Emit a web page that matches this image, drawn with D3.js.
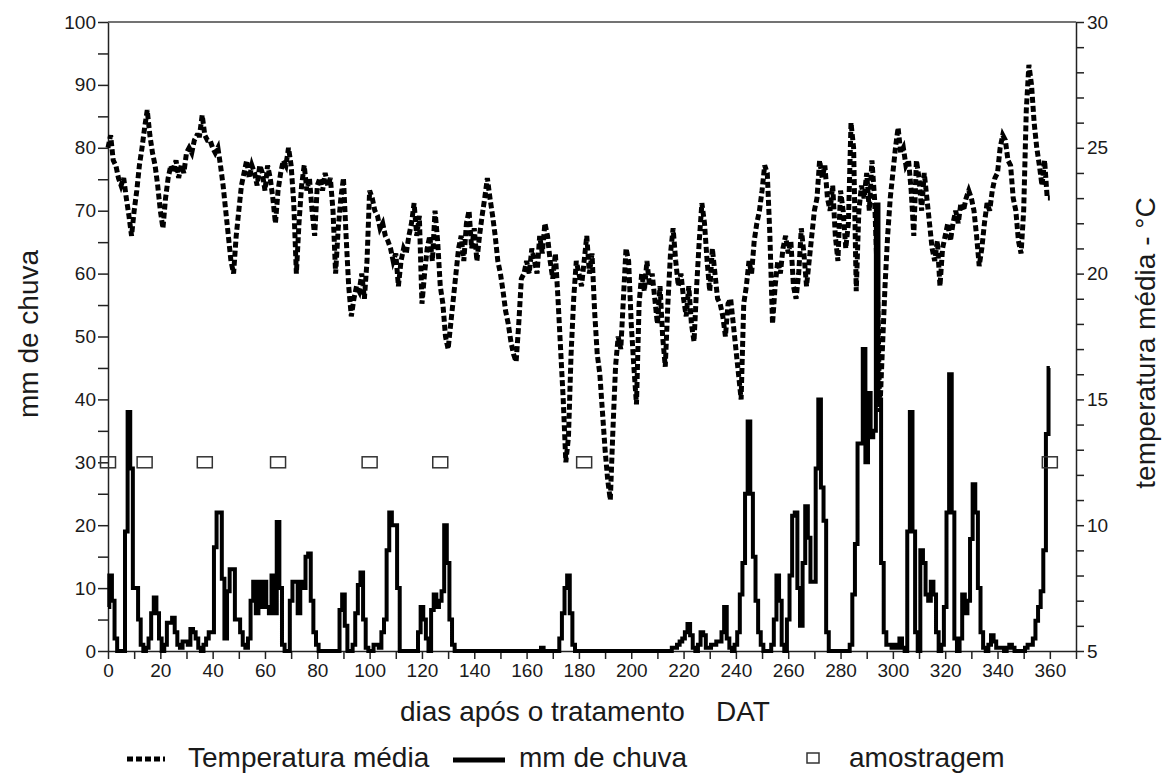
<!DOCTYPE html>
<html>
<head>
<meta charset="utf-8">
<script src="https://cdn.jsdelivr.net/npm/d3@7"></script>
<style>
  body { margin: 0; background: #fff; }
  svg text { font-family: "Liberation Sans", Arial, sans-serif; fill: #1a1a1a; }
</style>
</head>
<body>
<svg id="chart" width="1162" height="774"></svg>
<script>
// daily rain (mm), index = days after treatment (0..360)
var rainfall = [
  7, 12, 8, 2, 0, 0, 0, 19, 38, 29,
  10, 10, 5, 1, 0, 0.5, 2, 6, 8.5, 6,
  2, 0, 1, 4.5, 4.5, 5.3, 3, 1, 0.5, 1.5,
  1.5, 1, 3.5, 3, 2, 0.5, 0, 1, 2, 3,
  3, 16.5, 22, 22, 11.5, 2, 9.5, 13, 13, 5,
  5, 3, 1, 0.5, 2, 8, 11, 6, 11, 7,
  11, 7, 6, 12, 6, 20.5, 10, 1, 0, 0,
  8, 11, 11, 6, 11, 10, 15, 15.5, 8, 3,
  1, 0, 0, 0, 0, 0, 0, 0, 0, 6.5,
  9, 4, 0, 0, 1, 6, 10.5, 12.5, 5, 0.5,
  0, 0, 1, 1, 0.5, 3, 5, 16, 22, 20,
  20, 10, 0, 0, 0, 0, 0, 0, 0, 3,
  7, 5, 2, 0, 6.5, 9, 7, 8, 9.5, 20,
  14, 5, 1, 0, 0, 0, 0, 0, 0, 0,
  0, 0, 0, 0, 0, 0, 0, 0, 0, 0,
  0, 0, 0, 0, 0, 0, 0, 0, 0, 0,
  0, 0, 0, 0, 0, 0, 0.5, 0, 0, 0,
  0, 0, 0, 2, 6, 10, 12, 6, 1, 0,
  0, 0, 0, 0, 0, 0, 0, 0, 0, 0,
  0, 0, 0, 0, 0, 0, 0, 0, 0, 0,
  0, 0, 0, 0, 0, 0, 0, 0, 0, 0,
  0, 0, 0, 0, 0, 0, 0.5, 0.5, 1, 1.5,
  2, 3, 4.3, 2.5, 0.5, 0, 1, 3, 2.5, 0.5,
  0.5, 1, 1, 1.5, 1.5, 3, 7, 2, 0.5, 0,
  1, 3, 9, 14, 25, 36.5, 25, 15, 8, 3,
  1, 0, 0, 0, 1, 5, 12, 8, 1, 0,
  5, 12, 21.5, 22, 10, 4, 14, 23, 18, 11,
  11, 29, 40, 26, 20.7, 3, 0, 0, 0, 0,
  0, 0, 0, 0, 1, 9, 17, 33, 33, 48,
  30, 41, 34, 35, 71, 40, 14, 3, 1, 1,
  0.5, 1, 0.5, 2, 0.5, 0, 19, 38, 19, 3,
  0, 16, 14, 9, 8, 11, 9, 3, 0, 1,
  7, 22, 44, 22, 2, 0, 2, 9, 6, 8,
  17.8, 26.5, 22, 10, 3, 0.5, 0, 1, 2.5, 1.5,
  0.5, 0.5, 0.5, 0, 0.5, 1, 0.5, 0, 0, 0,
  0, 0.5, 1, 1, 2, 4.8, 7, 9.5, 16, 34.5, 45
];

// daily mean temperature (°C), index = days after treatment (0..360)
var temperature = [
  25.0, 25.5, 24.5, 24.3, 23.8, 23.5, 23.8, 23.0, 22.3, 21.5,
  22.5, 23.3, 24.3, 25.0, 25.8, 26.5, 25.5, 24.8, 24.3, 23.5,
  22.5, 21.8, 23.0, 23.8, 24.3, 24.0, 24.5, 23.8, 24.3, 24.0,
  24.8, 25.0, 24.8, 25.3, 25.5, 25.5, 26.3, 25.5, 25.3, 25.3,
  25.0, 24.8, 25.0, 24.3, 23.5, 22.5, 21.5, 20.5, 20.0, 21.5,
  22.5, 23.5, 24.0, 24.5, 23.8, 24.3, 24.0, 23.5, 24.3, 24.0,
  23.3, 24.3, 23.8, 23.0, 22.0, 23.3, 24.0, 24.5, 24.3, 25.0,
  24.3, 22.8, 20.0, 22.0, 23.5, 24.3, 23.3, 23.8, 22.5, 21.5,
  23.5, 23.8, 23.3, 24.0, 23.5, 23.8, 22.5, 20.0, 21.8, 23.0,
  23.8, 21.5, 19.5, 18.3, 19.0, 19.5, 19.3, 20.0, 19.0, 20.5,
  23.3, 23.0, 22.5, 22.3, 21.8, 22.0, 21.5, 21.3, 21.0, 20.5,
  20.8, 19.5, 20.5, 21.0, 20.8, 21.5, 22.0, 22.8, 21.5, 22.3,
  18.8, 20.0, 21.0, 21.5, 20.5, 22.5, 21.3, 19.5, 18.8, 17.5,
  17.0, 18.0, 19.0, 20.0, 21.0, 21.5, 20.5, 22.0, 22.5, 21.0,
  21.8, 20.5, 21.5, 22.3, 23.0, 23.8, 23.0, 22.3, 21.5, 20.5,
  20.0, 19.3, 18.5, 18.0, 17.3, 16.8, 16.5, 18.0, 19.8, 20.0,
  20.5, 20.0, 21.0, 20.5, 20.0, 21.5, 20.8, 22.0, 21.5, 20.5,
  19.8, 20.8, 19.0, 17.0, 15.0, 12.5, 13.5, 16.8, 19.0, 20.5,
  20.0, 19.5, 20.5, 21.5, 20.0, 20.8, 18.5, 16.8, 16.0, 14.5,
  13.0, 11.8, 11.0, 13.8, 16.3, 17.5, 17.0, 19.0, 21.0, 20.5,
  18.0, 16.3, 14.8, 18.8, 20.0, 19.3, 20.5, 19.5, 20.0, 19.0,
  18.0, 19.5, 17.5, 16.3, 18.8, 20.8, 21.8, 20.5, 19.5, 20.0,
  19.0, 18.3, 19.5, 18.0, 17.3, 19.5, 21.3, 22.8, 22.0, 20.5,
  19.3, 21.0, 20.0, 19.0, 18.8, 18.3, 17.5, 18.8, 19.0, 18.0,
  17.0, 16.0, 15.0, 18.8, 19.5, 20.5, 20.0, 21.3, 22.0, 22.5,
  23.3, 24.3, 24.0, 21.5, 18.0, 19.5, 20.5, 20.0, 21.0, 21.5,
  20.8, 21.3, 19.5, 19.0, 20.0, 21.8, 20.8, 19.5, 20.5, 21.5,
  22.5, 23.0, 24.5, 23.8, 24.3, 23.0, 22.5, 23.5, 21.5, 20.5,
  23.3, 22.5, 21.0, 22.0, 26.0, 25.0, 19.3, 22.5, 23.5, 23.0,
  24.0, 22.5, 24.5, 23.0, 20.0, 14.5, 17.0, 19.5, 21.5, 23.0,
  24.0, 25.0, 25.8, 24.8, 25.0, 24.3, 24.5, 23.3, 21.5, 24.5,
  23.8, 22.5, 24.0, 23.0, 22.0, 21.0, 20.5, 21.3, 19.5, 21.0,
  21.5, 22.0, 21.3, 22.0, 22.5, 22.0, 22.8, 22.5, 23.0, 23.3,
  23.0, 22.5, 21.5, 20.3, 21.0, 22.0, 22.8, 22.5, 23.3, 23.8,
  24.0, 25.0, 25.5, 25.3, 24.5, 24.3, 23.0, 22.5, 21.3, 20.8,
  22.5, 26.5, 28.3, 27.5, 26.0, 25.0, 24.3, 23.5, 24.5, 23.0, 23.0
];

// sampling days ("amostragem"), drawn at 30 mm
var sampleDays = [0, 14, 37, 65, 100, 127, 182, 360];
var sampleLevel = 30;

var xTickLabels = [0, 20, 40, 60, 80, 100, 120, 140, 160, 180, 200, 220, 240, 260, 280, 300, 320, 340, 360];
var rainTickLabels = [0, 10, 20, 30, 40, 50, 60, 70, 80, 90, 100];
var tempTickLabels = [5, 10, 15, 20, 25, 30];

var svg = d3.select('#chart');

var x = d3.scaleLinear().domain([0, 370]).range([108, 1076]);
var yRain = d3.scaleLinear().domain([0, 100]).range([651, 22]);
var yTemp = d3.scaleLinear().domain([5, 30]).range([651, 22]);

// ---- axes
function styleAxis(g) {
  g.selectAll('path, line').attr('stroke', '#222').attr('stroke-width', 1.5);
  g.selectAll('text').attr('font-size', 19).attr('fill', '#1a1a1a');
}

svg.append('g')
  .attr('transform', 'translate(0,' + yRain(0) + ')')
  .call(d3.axisBottom(x)
    .tickValues(d3.range(0, 371, 10))
    .tickSize(8).tickSizeOuter(0).tickPadding(5)
    .tickFormat(function(d) { return xTickLabels.includes(d) ? d : ''; }))
  .call(styleAxis);

svg.append('g')
  .attr('transform', 'translate(' + x(0) + ',0)')
  .call(d3.axisLeft(yRain)
    .tickValues(d3.range(0, 101, 5))
    .tickSize(10).tickSizeOuter(0).tickPadding(2)
    .tickFormat(function(d) { return rainTickLabels.includes(d) ? d : ''; }))
  .call(styleAxis);

svg.append('g')
  .attr('transform', 'translate(' + x(370) + ',0)')
  .call(d3.axisRight(yTemp)
    .tickValues(d3.range(5, 31, 1))
    .tickSize(8).tickSizeOuter(0).tickPadding(3)
    .tickFormat(function(d) { return tempTickLabels.includes(d) ? d : ''; }))
  .call(styleAxis);

// top border
svg.append('line')
  .attr('x1', x(0)).attr('x2', x(370))
  .attr('y1', yRain(100)).attr('y2', yRain(100))
  .attr('stroke', '#444').attr('stroke-width', 1.5);

// ---- temperature (dashed)
var tempLine = d3.line()
  .x(function(d, i) { return x(i); })
  .y(function(d) { return yTemp(d); });

svg.append('path')
  .datum(temperature)
  .attr('d', tempLine)
  .attr('fill', 'none')
  .attr('stroke', '#000')
  .attr('stroke-width', 5)
  .attr('stroke-dasharray', '6,3');

// ---- rainfall (solid, stepped)
var rainLine = d3.line()
  .curve(d3.curveStep)
  .x(function(d, i) { return x(i); })
  .y(function(d) { return yRain(d); });

svg.append('path')
  .datum(rainfall)
  .attr('d', rainLine)
  .attr('fill', 'none')
  .attr('stroke', '#000')
  .attr('stroke-width', 4)
  .attr('stroke-linejoin', 'miter');

// ---- sampling squares
svg.append('g')
  .selectAll('rect')
  .data(sampleDays)
  .enter()
  .append('rect')
  .attr('x', function(d) { return x(d) - 7.5; })
  .attr('y', yRain(sampleLevel) - 5.5)
  .attr('width', 15)
  .attr('height', 11)
  .attr('fill', 'none')
  .attr('stroke', '#333')
  .attr('stroke-width', 1.5);

// ---- titles
svg.append('text')
  .attr('x', 400).attr('y', 721)
  .attr('font-size', 28)
  .text('dias após o tratamento');
svg.append('text')
  .attr('x', 716).attr('y', 721)
  .attr('font-size', 28)
  .text('DAT');

svg.append('text')
  .attr('transform', 'translate(38,334) rotate(-90)')
  .attr('text-anchor', 'middle')
  .attr('font-size', 28)
  .text('mm de chuva');

svg.append('text')
  .attr('transform', 'translate(1155,343) rotate(-90)')
  .attr('text-anchor', 'middle')
  .attr('font-size', 28)
  .text('temperatura média - °C');

// ---- legend
var legend = svg.append('g');
legend.append('line')
  .attr('x1', 127).attr('x2', 165).attr('y1', 759).attr('y2', 759)
  .attr('stroke', '#000').attr('stroke-width', 5).attr('stroke-dasharray', '6,3');
legend.append('text').attr('x', 188).attr('y', 767).attr('font-size', 28).text('Temperatura média');
legend.append('line')
  .attr('x1', 453).attr('x2', 505).attr('y1', 760).attr('y2', 760)
  .attr('stroke', '#000').attr('stroke-width', 5);
legend.append('text').attr('x', 519).attr('y', 767).attr('font-size', 28).text('mm de chuva');
legend.append('rect')
  .attr('x', 807).attr('y', 753).attr('width', 12).attr('height', 10)
  .attr('fill', 'none').attr('stroke', '#333').attr('stroke-width', 1.5);
legend.append('text').attr('x', 849).attr('y', 767).attr('font-size', 28).text('amostragem');
</script>
</body>
</html>
